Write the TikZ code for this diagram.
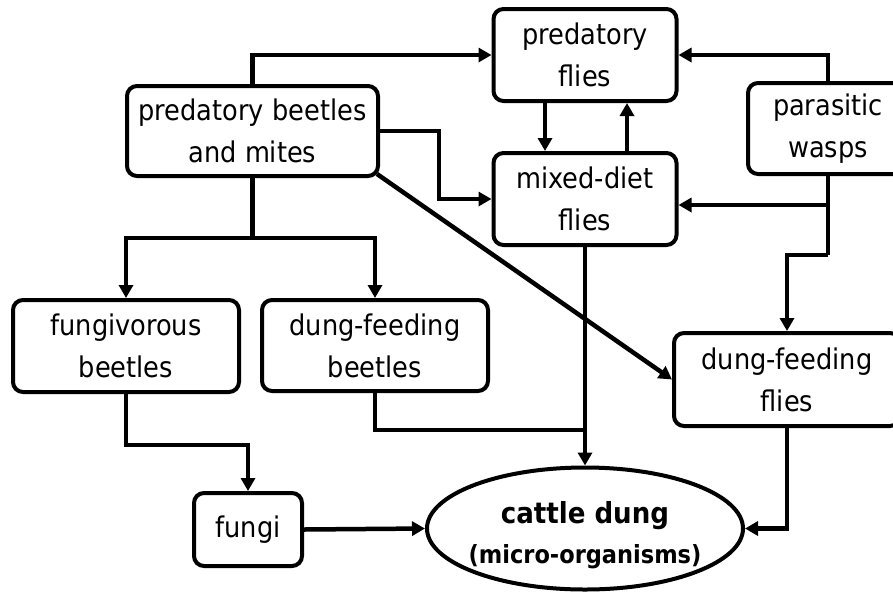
\documentclass[tikz,border=0pt]{standalone}
\usepackage{fontspec}
\setmainfont{DejaVu Sans Condensed}
\usetikzlibrary{arrows.meta,shapes.geometric,calc}
\begin{document}
\begin{tikzpicture}[x=1pt,y=-1pt,
  box/.style={draw, line width=4pt, rounded corners=10pt, align=center,
    font=\fontsize{28.5}{42}\selectfont, inner sep=0pt},
  link/.style={line width=4.5pt, -{Triangle[length=13pt,width=14pt]}},
  plain/.style={line width=4.5pt}]
\useasboundingbox (0,0) rectangle (893,592);
\clip (0,0) rectangle (893,592);
\node[box, minimum width=251pt, minimum height=90pt] (pb) at (252.5,131) {predatory beetles\\and mites};
\node[box, minimum width=183pt, minimum height=92pt] (pf) at (585,55) {predatory\\flies};
\node[box, minimum width=183pt, minimum height=92pt] (md) at (585,199) {mixed-diet\\flies};
\node[box, minimum width=160pt, minimum height=91pt, text width=160pt] (pw) at (828,128.5) {parasitic\\wasps};
\node[box, minimum width=226pt, minimum height=92pt] (fb) at (126,346) {fungivorous\\beetles};
\node[box, minimum width=226pt, minimum height=91pt] (db) at (375,345.5) {dung-feeding\\beetles};
\node[box, minimum width=226pt, minimum height=93pt] (df) at (787,379.5) {dung-feeding\\flies};
\node[box, minimum width=108pt, minimum height=73pt] (fungi) at (248,529.5) {fungi};
\node[draw, line width=4pt, ellipse, minimum width=316pt, minimum height=122pt, inner sep=0pt,
  label={[align=center, inner sep=0pt, yshift=-2.5pt]center:{\fontsize{29}{36}\selectfont\bfseries\rule{0pt}{31pt}cattle dung\\[14pt]\fontsize{25}{30}\selectfont\bfseries (micro-organisms)}}] (dung) at (585,528.5) {};
\coordinate (b1) at (252.5,238);
\coordinate (w1) at (828,205);
\coordinate (w2) at (828,255);
\coordinate (d1) at (585,430);
\draw[link] (pb.north) |- (pf.west);
\draw[link] (pw.north) |- (pf.east);
\draw[link] ($(pf.south)+(-40,0)$) -- ($(md.north)+(-40,0)$);
\draw[link] ($(md.north)+(42,0)$) -- ($(pf.south)+(42,0)$);
\draw[link] (pb.east) -- ++(59,0) |- (md.west);
\draw[link] ($(pb.south east)+(-3,-4)$) -- (df.west);
\draw[plain] (pw.south) -- (w2);
\draw[link] (w1) -- ($(md.east)+(0,6)$);
\draw[link] (w2) -| (df.north);
\draw[plain] (pb.south) -- (b1);
\draw[link] (b1) -| (fb.north);
\draw[link] (b1) -| (db.north);
\draw[link] (fb.south) -- ++(0,51) -| (fungi.north);
\draw[link] (fungi.east) -- (dung.west);
\draw[plain] (db.south) |- (d1);
\draw[link] (md.south) -- (dung.north);
\draw[link] (df.south) |- (dung.east);
\end{tikzpicture}
\end{document}
